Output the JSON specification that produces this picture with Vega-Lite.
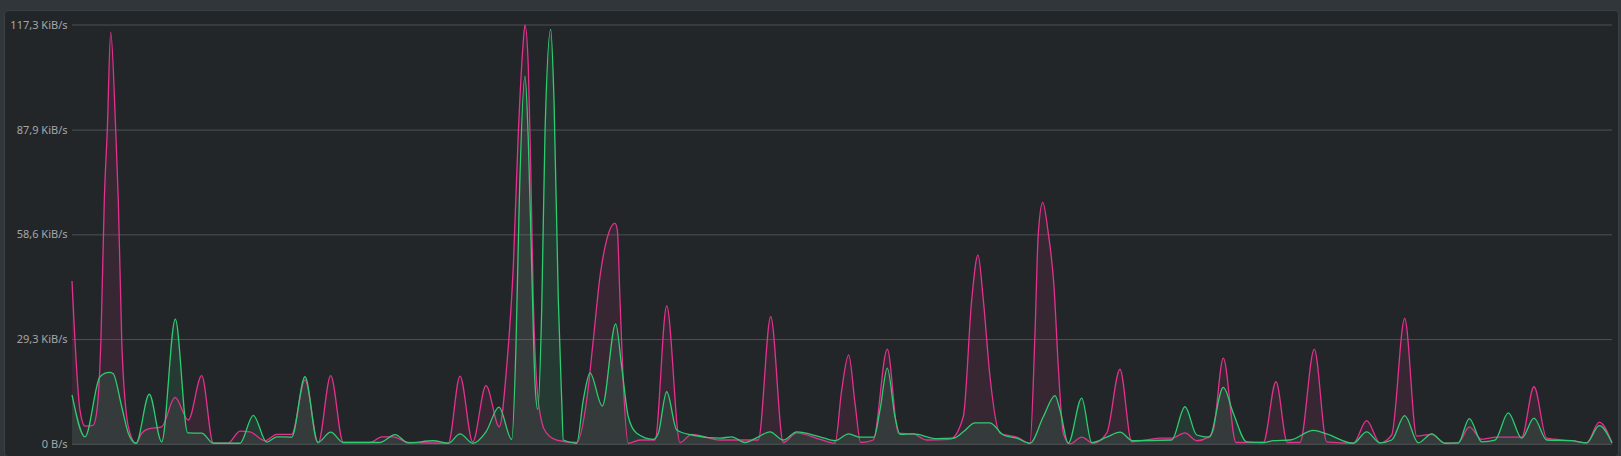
{
  "$schema": "https://vega.github.io/schema/vega-lite/v6.json",
  "width": 1614,
  "height": 446,
  "autosize": {"type": "none"},
  "padding": {"left": 4, "top": 10, "right": 3, "bottom": 0},
  "background": "#31363b",
  "config": {
    "view": {"fill": "#232629", "stroke": "#3b4045", "cornerRadius": 4},
    "font": "Noto Sans",
    "axisY": {
      "grid": false, "domain": false, "ticks": false,
      "labelPadding": 5, "offset": -68,
      "labelColor": "#a3a6a9", "labelFontSize": 11, "labelFont": "Noto Sans"
    }
  },
  "datasets": {
    "down": [
      {"t":0,"v":45.7},{"t":8,"v":9.5},{"t":13,"v":5.1},{"t":21,"v":5.3},{"t":25,"v":9.6},{"t":29,"v":30},{"t":32.3,"v":68.3},{"t":35.3,"v":87.9},{"t":38.7,"v":115.3},{"t":43.7,"v":87.9},{"t":46.3,"v":68.3},{"t":49.7,"v":29.4},{"t":54.7,"v":7.7},{"t":58,"v":3.1},{"t":64,"v":0.3},{"t":69.7,"v":3.1},{"t":76.3,"v":4.3},{"t":89.7,"v":4.9},{"t":103,"v":13.1},{"t":116.3,"v":6.8},{"t":129.7,"v":19.2},{"t":141.3,"v":0.3},{"t":156,"v":0.3},{"t":168,"v":3.7},{"t":178,"v":3.5},{"t":193,"v":1.0},{"t":204.7,"v":2.8},{"t":219.7,"v":2.8},{"t":233,"v":18.0},{"t":246.3,"v":0.5},{"t":258.7,"v":19.2},{"t":271.3,"v":0.5},{"t":298,"v":0.5},{"t":309.7,"v":2.1},{"t":321.3,"v":2.1},{"t":336.3,"v":0.5},{"t":376.3,"v":0.3},{"t":388,"v":19.1},{"t":400.7,"v":0.7},{"t":414,"v":16.4},{"t":427.3,"v":4.9},{"t":434.7,"v":21.7},{"t":441.3,"v":49.7},{"t":446.3,"v":87},{"t":450.7,"v":110.3},{"t":453,"v":117.3},{"t":456.3,"v":105.6},{"t":458.7,"v":77.7},{"t":461.3,"v":40.4},{"t":464.7,"v":17.1},{"t":469.7,"v":6.3},{"t":474.7,"v":3.1},{"t":484.7,"v":1.2},{"t":504.7,"v":0.5},{"t":514.7,"v":12.4},{"t":521.3,"v":29.2},{"t":528,"v":46.9},{"t":534.7,"v":57.2},{"t":543,"v":61.8},{"t":545.3,"v":60},{"t":548,"v":40.4},{"t":551.3,"v":17.1},{"t":556.3,"v":0.3},{"t":568,"v":1.2},{"t":583,"v":1.2},{"t":594.7,"v":38.7},{"t":608,"v":0.5},{"t":619.7,"v":2.8},{"t":648,"v":1.2},{"t":686.3,"v":1.2},{"t":698.7,"v":35.7},{"t":711.3,"v":0.5},{"t":724.7,"v":3.2},{"t":748,"v":1.4},{"t":763,"v":0.3},{"t":769.7,"v":15.2},{"t":776.7,"v":25},{"t":783,"v":11.5},{"t":788.7,"v":0.5},{"t":801.3,"v":1.2},{"t":815.3,"v":26.6},{"t":826.3,"v":3.1},{"t":841.3,"v":2.9},{"t":854.7,"v":1.2},{"t":878,"v":1.4},{"t":891.3,"v":7.7},{"t":899.7,"v":40.4},{"t":906,"v":52.9},{"t":911.3,"v":40.4},{"t":918,"v":18.9},{"t":928,"v":3.1},{"t":944.7,"v":2.0},{"t":958,"v":0.3},{"t":963,"v":31.1},{"t":966.3,"v":59},{"t":970.7,"v":67.7},{"t":976.3,"v":59},{"t":982,"v":44.1},{"t":986.3,"v":21.7},{"t":991.3,"v":3.1},{"t":998,"v":0.1},{"t":1009.7,"v":2.0},{"t":1021.3,"v":0.3},{"t":1034.7,"v":3.1},{"t":1048,"v":21},{"t":1059.7,"v":0.7},{"t":1078,"v":1.4},{"t":1088,"v":1.7},{"t":1099.7,"v":1.7},{"t":1113,"v":3.2},{"t":1124.7,"v":1.0},{"t":1136.3,"v":2.0},{"t":1141.3,"v":4.0},{"t":1151.3,"v":24.1},{"t":1164,"v":0.5},{"t":1191.3,"v":0.5},{"t":1204,"v":17.5},{"t":1215.3,"v":0.5},{"t":1228,"v":0.5},{"t":1242.3,"v":26.6},{"t":1254.7,"v":0.7},{"t":1281.3,"v":0.3},{"t":1294.7,"v":6.6},{"t":1308,"v":0.4},{"t":1319.7,"v":2.6},{"t":1332.7,"v":35.2},{"t":1344.7,"v":2.3},{"t":1359.7,"v":2.8},{"t":1373,"v":0.3},{"t":1386.3,"v":0.4},{"t":1397.3,"v":4.9},{"t":1409.7,"v":1.4},{"t":1424.7,"v":2.0},{"t":1449.7,"v":2.0},{"t":1462,"v":16.1},{"t":1474.7,"v":1.7},{"t":1499.7,"v":1.0},{"t":1514.7,"v":0.4},{"t":1527.3,"v":6.2},{"t":1540,"v":0.4}
    ],
    "up": [
      {"t":0,"v":13.8},{"t":13,"v":2.1},{"t":28,"v":18.9},{"t":37.3,"v":20.1},{"t":41,"v":19.8},{"t":49.7,"v":10.5},{"t":56.3,"v":3.1},{"t":64,"v":0.3},{"t":77.3,"v":14.0},{"t":89.7,"v":0.7},{"t":103.3,"v":35.0},{"t":115.7,"v":3.2},{"t":129.7,"v":3.1},{"t":141.3,"v":0.3},{"t":168,"v":0.3},{"t":181.3,"v":8.1},{"t":194.7,"v":0.6},{"t":204.7,"v":2.1},{"t":219.7,"v":2.0},{"t":233,"v":18.9},{"t":245.7,"v":0.5},{"t":258.7,"v":3.4},{"t":271.3,"v":0.5},{"t":308,"v":0.5},{"t":323,"v":2.7},{"t":336.3,"v":0.4},{"t":361.3,"v":1.0},{"t":376.3,"v":0.3},{"t":388,"v":2.9},{"t":401,"v":0.3},{"t":414,"v":3.5},{"t":427,"v":10.4},{"t":439.7,"v":1.4},{"t":444,"v":27.8},{"t":447.3,"v":68.3},{"t":453,"v":103},{"t":456.3,"v":85.1},{"t":459.7,"v":49.7},{"t":463,"v":17.1},{"t":465.7,"v":9.8},{"t":469.7,"v":37.6},{"t":473,"v":87},{"t":478.7,"v":116.1},{"t":482,"v":96.3},{"t":486.3,"v":40.4},{"t":489.7,"v":12.4},{"t":491.3,"v":1.2},{"t":504.7,"v":0.3},{"t":511.3,"v":12.4},{"t":518,"v":20},{"t":530.3,"v":10.7},{"t":543.7,"v":33.7},{"t":549.7,"v":21.7},{"t":556.3,"v":7.7},{"t":564.7,"v":3.1},{"t":581.3,"v":1.4},{"t":586.3,"v":3.1},{"t":594.7,"v":14.7},{"t":604.7,"v":4.0},{"t":619.7,"v":2.6},{"t":648,"v":1.7},{"t":659.7,"v":2.1},{"t":673,"v":0.5},{"t":686.3,"v":2.1},{"t":698,"v":3.5},{"t":711.3,"v":1.2},{"t":724.7,"v":3.5},{"t":748,"v":2.1},{"t":763,"v":1.0},{"t":776.7,"v":2.9},{"t":788,"v":2.0},{"t":802,"v":2.0},{"t":808,"v":9.6},{"t":815.3,"v":21.3},{"t":823,"v":7.7},{"t":828,"v":2.8},{"t":841.3,"v":2.9},{"t":864.7,"v":1.6},{"t":881.3,"v":1.7},{"t":891.3,"v":3.5},{"t":903,"v":6.0},{"t":918,"v":6.0},{"t":931.3,"v":2.6},{"t":944.7,"v":1.7},{"t":958,"v":0.3},{"t":971.3,"v":7.7},{"t":983,"v":13.6},{"t":988,"v":9.6},{"t":996.3,"v":0.3},{"t":1009.7,"v":12.9},{"t":1019.7,"v":0.5},{"t":1034.7,"v":2.0},{"t":1048,"v":3.4},{"t":1060.7,"v":1.0},{"t":1099.7,"v":1.2},{"t":1113,"v":10.5},{"t":1124.7,"v":2.6},{"t":1137.3,"v":2.0},{"t":1151.3,"v":15.9},{"t":1161.3,"v":8.7},{"t":1174.7,"v":0.7},{"t":1191.3,"v":0.5},{"t":1201.3,"v":1.0},{"t":1218,"v":1.2},{"t":1241.3,"v":3.9},{"t":1254.7,"v":2.9},{"t":1281.3,"v":0.3},{"t":1294.7,"v":3.5},{"t":1308,"v":0.4},{"t":1319.7,"v":1.2},{"t":1332.7,"v":8.0},{"t":1346.3,"v":0.4},{"t":1359.7,"v":2.9},{"t":1373,"v":0.3},{"t":1386.3,"v":0.4},{"t":1397.3,"v":7.2},{"t":1409.7,"v":0.7},{"t":1423,"v":1.2},{"t":1436.3,"v":8.8},{"t":1449.7,"v":1.7},{"t":1462,"v":7.3},{"t":1474.7,"v":1.2},{"t":1499.7,"v":1.0},{"t":1514.7,"v":0.4},{"t":1527.3,"v":5.2},{"t":1540,"v":0.4}
    ],
    "grid": [{"g":0},{"g":29.3},{"g":58.6},{"g":87.9},{"g":117.3}]
  },
  "layer": [
    {
      "data": {"name": "grid"},
      "mark": {"type": "rule", "color": "#4d5155", "strokeWidth": 1},
      "encoding": {
        "y": {
          "field": "g", "type": "quantitative", "title": null,
          "scale": {"domain": [0, 117.3], "range": [434.3, 15], "nice": false, "zero": true},
          "axis": {
            "values": [0, 29.3, 58.6, 87.9, 117.3],
            "labelExpr": "datum.value == 0 ? '0 B/s' : replace(format(datum.value, '.1f'), '.', ',') + ' KiB/s'",
            "title": null
          }
        },
        "x": {
          "datum": 0, "type": "quantitative",
          "scale": {"domain": [0, 1540], "range": [68, 1608], "nice": false, "zero": false},
          "axis": null
        },
        "x2": {"datum": 1540}
      }
    },
    {
      "data": {"name": "down"},
      "mark": {"type": "area", "interpolate": "monotone", "fill": "#e3318f", "fillOpacity": 0.1},
      "encoding": {
        "x": {"field": "t", "type": "quantitative", "axis": null},
        "y": {"field": "v", "type": "quantitative", "title": null}
      }
    },
    {
      "data": {"name": "up"},
      "mark": {"type": "area", "interpolate": "monotone", "fill": "#2ecc71", "fillOpacity": 0.12},
      "encoding": {
        "x": {"field": "t", "type": "quantitative", "axis": null},
        "y": {"field": "v", "type": "quantitative", "title": null}
      }
    },
    {
      "data": {"name": "down"},
      "mark": {"type": "line", "interpolate": "monotone", "stroke": "#e3318f", "strokeWidth": 1.3},
      "encoding": {
        "x": {"field": "t", "type": "quantitative", "axis": null},
        "y": {"field": "v", "type": "quantitative", "title": null}
      }
    },
    {
      "data": {"name": "up"},
      "mark": {"type": "line", "interpolate": "monotone", "stroke": "#2ecc71", "strokeWidth": 1.3},
      "encoding": {
        "x": {"field": "t", "type": "quantitative", "axis": null},
        "y": {"field": "v", "type": "quantitative", "title": null}
      }
    }
  ]
}
